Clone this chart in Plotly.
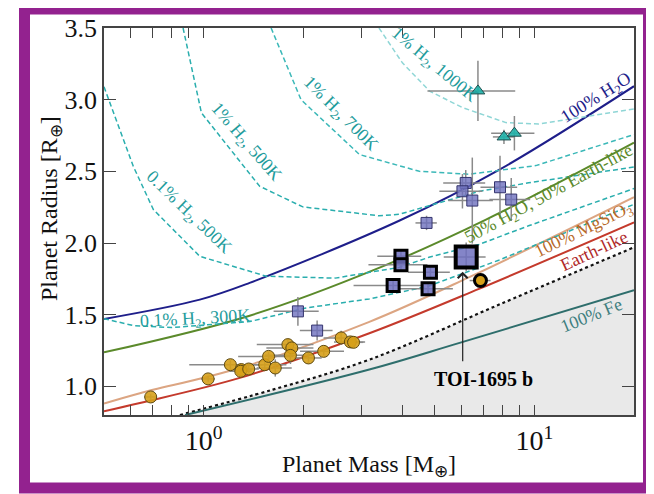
import plotly.graph_objects as go
import math

# ---------------- model curves (mass [M_earth], radius [R_earth])
h2o_m = [0.5, 0.974, 1.378, 3.9, 7.84, 20]
h2o_r = [1.47, 1.605, 1.722, 2.155, 2.512, 3.094]

mix_m = [0.5, 1.378, 3.39, 7.14, 20]
mix_r = [1.237, 1.493, 1.826, 2.163, 2.70]

mgsio3_m = [0.5, 0.642, 1.286, 3.17, 6.33, 20]
mgsio3_r = [0.88, 0.952, 1.128, 1.45, 1.76, 2.32]

earth_m = [0.5, 0.642, 1.286, 3.17, 6.8, 20]
earth_r = [0.826, 0.884, 1.059, 1.37, 1.68, 2.144]

fe_m = [0.88, 3.17, 5.94, 20]
fe_r = [0.80, 1.117, 1.303, 1.67]

strip_m = [0.848, 1.62, 3.17, 8.0, 20]
strip_r = [0.80, 0.977, 1.186, 1.58, 1.97]

h1000_m = [3.39, 3.99, 4.82, 6.06, 8.2, 10.3, 20]
h1000_r = [3.5, 3.257, 3.06, 2.945, 2.84, 2.83, 2.935]

h700_m = [1.6, 1.97, 2.96, 4.49, 6.36, 10.1, 20]
h700_r = [3.5, 3.0, 2.617, 2.50, 2.48, 2.54, 2.757]

h500_m = [0.867, 0.985, 1.477, 1.995, 3.39, 3.9, 4.8, 6.8, 9.6, 20]
h500_r = [3.5, 2.908, 2.396, 2.252, 2.19, 2.2, 2.26, 2.36, 2.42, 2.53]

l500_m = [0.5, 0.613, 0.705, 0.974, 1.547, 2.5, 3.9, 4.8, 6.8, 9.6, 20]
l500_r = [3.09, 2.535, 2.233, 1.907, 1.768, 1.755, 1.83, 1.9, 1.99, 2.12, 2.38]

l300_m = [0.5, 0.613, 0.8, 1.38, 2.04, 3.17, 4.8, 7.8, 20]
l300_r = [1.472, 1.424, 1.41, 1.452, 1.547, 1.61, 1.70, 1.88, 2.27]

# ---------------- planets
rocky_m = [0.692, 1.032, 1.205, 1.30, 1.295, 1.369, 1.53, 1.572, 1.647, 1.798, 1.848, 1.83, 2.075, 2.307, 2.605, 2.778, 2.84]
rocky_r = [0.926, 1.052, 1.151, 1.117, 1.105, 1.121, 1.151, 1.209, 1.128, 1.291, 1.268, 1.216, 1.198, 1.244, 1.338, 1.31, 1.307]
rocky_mx = [0.03, 0.05, 0.3, 0.1, 0.1, 0.1, 0.25, 0.3, 0.2, 0.35, 0.3, 0.3, 0.2, 0.35, 0.3, 0.3, 0.2]
rocky_rx = [0.02, 0.02, 0.03, 0.03, 0.03, 0.03, 0.03, 0.03, 0.06, 0.04, 0.04, 0.06, 0.04, 0.03, 0.05, 0.04, 0.04]

rocky_hl_m = [6.87]
rocky_hl_r = [1.738]
rocky_hl_mx = [0.5]
rocky_hl_rx = [0.03]

water_m = [1.928, 2.204, 4.72, 6.20, 6.06, 6.49, 7.87, 8.51]
water_r = [1.523, 1.389, 2.14, 2.419, 2.361, 2.296, 2.389, 2.303]
water_mx = [0.3, 0.25, 0.35, 0.9, 0.9, 1.0, 1.0, 1.2]
water_rx = [0.1, 0.07, 0.05, 0.09, 0.12, 0.3, 0.22, 0.15]

water_hl_m = [3.95, 3.95, 4.85, 3.74, 4.77]
water_hl_r = [1.907, 1.849, 1.796, 1.703, 1.68]
water_hl_mx = [0.6, 0.8, 0.7, 0.9, 0.9]
water_hl_rx = [0.04, 0.04, 0.04, 0.04, 0.04]

toi_m = [6.22]
toi_r = [1.903]
toi_mx = [0.9]
toi_rx = [0.1]

gas_m = [6.75, 8.09, 8.7]
gas_r = [3.061, 2.74, 2.766]
gas_mx = [2.0, 0.6, 1.3]
gas_rx = [0.21, 0.05, 0.12]

x_tickvals = [0.6, 0.7, 0.8, 0.9, 1, 2, 3, 4, 5, 6, 7, 8, 9, 10, 20]
x_ticktext = ["", "", "", "", "10<sup>0</sup>", "", "", "", "", "", "", "", "", "10<sup>1</sup>", ""]
y_tickvals = [1.0, 1.5, 2.0, 2.5, 3.0, 3.5]

SERIF = "Liberation Serif, Times New Roman, serif"

fig = go.Figure()

# shaded stripping region below dotted curve
fig.add_trace(go.Scatter(x=strip_m, y=strip_r, mode="lines", line=dict(color="rgba(0,0,0,0)", width=0, shape="spline"),
                         fill="tozeroy", fillcolor="#e9e9e9", hoverinfo="skip", showlegend=False))

def curve(m, r, color, width=2.0, dash="solid", shape="spline"):
    fig.add_trace(go.Scatter(x=m, y=r, mode="lines", line=dict(color=color, width=width, dash=dash, shape=shape),
                             hoverinfo="skip", showlegend=False))

curve(strip_m, strip_r, "#111111", 2.2, "dot")
curve(fe_m, fe_r, "#2e6e6c")
curve(earth_m, earth_r, "#c43a2c")
curve(mgsio3_m, mgsio3_r, "#dca582")
curve(mix_m, mix_r, "#5b8a2b")
curve(h2o_m, h2o_r, "#1e1e8a")
curve(h1000_m, h1000_r, "#8fd6d6", 1.5, "5px,3px", "linear")
curve(h700_m, h700_r, "#3bb8b8", 1.5, "5px,3px", "linear")
curve(h500_m, h500_r, "#2aaeae", 1.5, "5px,3px", "linear")
curve(l500_m, l500_r, "#2aaeae", 1.5, "5px,3px", "linear")
curve(l300_m, l300_r, "#2aaeae", 1.5, "5px,3px", "linear")

ERR = dict(type="data", color="#8a8a8a", thickness=1.5, width=0)

def pts(m, r, mx, rx, symbol, size, fill, edge, ew):
    fig.add_trace(go.Scatter(x=m, y=r, mode="markers",
                             error_x=dict(array=mx, **ERR), error_y=dict(array=rx, **ERR),
                             marker=dict(symbol=symbol, size=size, color=fill, line=dict(color=edge, width=ew)),
                             hoverinfo="skip", showlegend=False))

pts(rocky_m, rocky_r, rocky_mx, rocky_rx, "circle", 12, "rgba(214,160,26,0.9)", "#5e4a10", 1)
pts(water_m, water_r, water_mx, water_rx, "square", 11, "rgba(110,112,190,0.8)", "#34346e", 1)
pts(gas_m, gas_r, gas_mx, gas_rx, "triangle-up", 12, "rgba(32,178,170,0.9)", "#1d4f4f", 1)
pts(water_hl_m, water_hl_r, water_hl_mx, water_hl_rx, "square", 12, "rgba(110,112,190,0.85)", "#000000", 3)
pts(toi_m, toi_r, toi_mx, toi_rx, "square", 21, "rgba(110,112,190,0.85)", "#000000", 4)
pts(rocky_hl_m, rocky_hl_r, rocky_hl_mx, rocky_hl_rx, "circle", 12, "rgba(214,160,26,1)", "#000000", 3)

# page has an 8px body margin; layout numbers below are in page pixels
OFF = 8
W, H = 654, 494
PL, PR, PT, PB = 104, 634, 28, 415          # plot box on the page
L = PL - OFF
T = PT - OFF
PW, PH = PR - PL, PB - PT
Rm = W - L - PW
B = H - T - PH

def px_to_paper(x, y):
    return (x - PL) / PW, (PB - y) / PH

ann = []
def lab(text, m, r, angle, color, size=18, bold=False):
    t = "<b>%s</b>" % text if bold else text
    ann.append(dict(x=math.log10(m), y=r, xref="x", yref="y", text=t, showarrow=False, textangle=angle,
                    font=dict(family=SERIF, size=size, color=color)))

lab("1% H<sub>2</sub>, 1000K", 4.98, 3.24, 40, "#1f9c9c")
lab("1% H<sub>2</sub>, 700K", 2.595, 2.90, 45, "#1f9c9c")
lab("1% H<sub>2</sub>, 500K", 1.34, 2.70, 49, "#1f9c9c")
lab("0.1% H<sub>2</sub>, 500K", 0.896, 2.21, 44, "#1f9c9c")
lab("0.1% H<sub>2</sub>, 300K", 0.945, 1.468, -3, "#1f9c9c")
lab("100% H<sub>2</sub>O", 15.4, 3.01, -32, "#1e1e8a")
lab("50% H<sub>2</sub>O, 50% Earth-like", 11.1, 2.34, -28.5, "#5b8a2b")
lab("100% MgSiO<sub>3</sub>", 14.1, 2.085, -26, "#b86a2a")
lab("Earth-like", 15.1, 1.946, -25, "#b02a2a")
lab("100% Fe", 14.9, 1.50, -22, "#3f7f7f")
lab("TOI-1695 b", 7.02, 1.054, 0, "#000000", 20, True)

# arrow to TOI-1695 b
ann.append(dict(x=math.log10(6.07), y=1.80, xref="x", yref="y", ax=math.log10(6.07), ay=1.165,
                axref="x", ayref="y", text="", showarrow=True, arrowhead=4, arrowsize=1.6,
                arrowwidth=1.2, arrowcolor="#222222"))

# axis titles
xt = px_to_paper(369, 483)
ann.append(dict(x=xt[0], y=xt[1], xref="paper", yref="paper", text="Planet Mass [M<sub>⊕</sub>]",
                showarrow=False, font=dict(family=SERIF, size=24, color="#111")))
yt = px_to_paper(34, 209)
ann.append(dict(x=yt[0], y=yt[1], xref="paper", yref="paper", text="Planet Radius [R<sub>⊕</sub>]",
                showarrow=False, textangle=-90, font=dict(family=SERIF, size=24, color="#111")))

# purple frame
f0 = px_to_paper(24.5, 488)
f1 = px_to_paper(648.5, 9)
shapes = [dict(type="rect", xref="paper", yref="paper", x0=f0[0], y0=f0[1], x1=f1[0], y1=f1[1],
               line=dict(color="#93228f", width=11), fillcolor="rgba(0,0,0,0)", layer="above")]

fig.update_layout(
    width=W, height=H, margin=dict(l=L, r=Rm, t=T, b=B, pad=0, autoexpand=False),
    paper_bgcolor="white", plot_bgcolor="white",
    annotations=ann, shapes=shapes, showlegend=False,
    xaxis=dict(type="log", range=[math.log10(0.5), math.log10(20)], tickvals=x_tickvals, ticktext=x_ticktext,
               ticks="inside", ticklen=10, tickwidth=1.2, tickcolor="#444", showgrid=False, zeroline=False,
               showline=True, linecolor="#444", linewidth=1.5, mirror="allticks", automargin=False,
               tickfont=dict(family=SERIF, size=28, color="#111")),
    yaxis=dict(range=[0.8, 3.5], tickvals=y_tickvals, tickformat=".1f",
               ticks="inside", ticklen=12, tickwidth=1.2, tickcolor="#444", showgrid=False, zeroline=False,
               showline=True, linecolor="#444", linewidth=1.5, mirror="allticks", automargin=False,
               tickfont=dict(family=SERIF, size=26, color="#111")),
)

fig.write_html("out.html")
